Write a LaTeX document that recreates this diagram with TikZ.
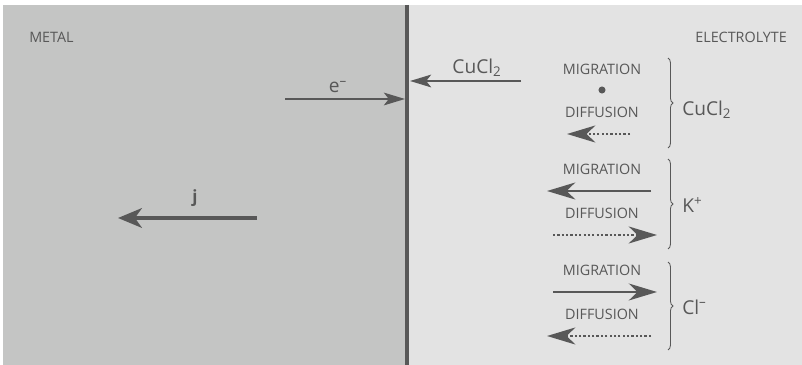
\documentclass[tikz,border=0pt]{standalone}
\usepackage{fontspec}
\setmainfont{Open Sans}
\usetikzlibrary{arrows.meta,positioning,decorations.pathreplacing}
\definecolor{metalgray}{RGB}{196,197,196}
\definecolor{electrogray}{RGB}{227,227,227}
\definecolor{ink}{RGB}{88,88,88}

\begin{document}
\begin{tikzpicture}[x=0.025cm, y=-0.025cm,
  every node/.style={text=ink, inner sep=0pt},
  caps/.style={font=\fontsize{10.2}{12}\selectfont},
  species/.style={font=\fontsize{13.6}{16}\selectfont, anchor=west},
  flow/.style={draw=ink, line width=1.7pt, -{Stealth[length=20pt, width=12pt, inset=6pt]}},
  thinflow/.style={draw=ink, line width=1.6pt, -{Stealth[length=15pt, width=9pt, inset=3.5pt]}},
  dotflow/.style={flow, line width=1.9pt, dash pattern=on 1.6pt off 1.5pt},
  currentflow/.style={draw=ink, line width=2.4pt, -{Stealth[length=17pt, width=14pt, inset=5pt]}},
  bracket/.style={draw=ink, line width=0.6pt, decorate, decoration={brace, amplitude=3.5pt}}]
  \useasboundingbox (0,0) rectangle (802,365);
  % the two phases
  \fill[metalgray] (3,5) rectangle (406,365);
  \fill[electrogray] (406,5) rectangle (802,365);
  \draw[ink, line width=2.2pt] (407,5) -- (407,365);
  \node[caps, anchor=west] (metal) at (29,37) {METAL};
  \node[caps, anchor=east] (electrolyte) at (787,37) {ELECTROLYTE};

  % charge transfer at the interface
  \coordinate (eTail) at (285,99);
  \coordinate (eTip) at (405,99);
  \draw[thinflow] (eTail) -- (eTip);
  \node[font=\fontsize{13.6}{16}\selectfont] (elabel) at (338,87) {e\textsuperscript{--}};
  \coordinate (cuTail) at (521,81);
  \coordinate (cuTip) at (410,81);
  \draw[thinflow] (cuTail) -- (cuTip);
  \node[font=\fontsize{13.6}{16}\selectfont] (cuarrowlabel) at (477,68) {CuCl\textsubscript{2}};

  % current in the metal
  \coordinate (jTail) at (257,218);
  \coordinate (jTip) at (118,218);
  \draw[currentflow] (jTail) -- (jTip);
  \node[font=\fontsize{12}{14}\selectfont\bfseries] (jlabel) at (195,198) {j};

  % CuCl2: no migration, diffusion towards the metal
  \node[caps] (migCu) at (602,69) {MIGRATION};
  \node[circle, fill=ink, minimum size=5pt] (dotCu) at (602,90) {};
  \node[caps] (difCu) at (602,112) {DIFFUSION};
  \coordinate (difCuTail) at (630,134);
  \coordinate (difCuTip) at (567,134);
  \draw[dotflow] (difCuTail) -- (difCuTip);
  \draw[bracket] (668,58) -- (668,148);
  \node[species] (cuIon) at (682,110) {CuCl\textsubscript{2}};

  % K+
  \node[caps] (migK) at (602,169) {MIGRATION};
  \coordinate (migKTail) at (651,191);
  \coordinate (migKTip) at (547,191);
  \draw[flow] (migKTail) -- (migKTip);
  \node[caps] (difK) at (602,213) {DIFFUSION};
  \coordinate (difKTail) at (553,235);
  \coordinate (difKTip) at (657,235);
  \draw[dotflow] (difKTail) -- (difKTip);
  \draw[bracket] (668,159) -- (668,249);
  \node[species] (kIon) at (682,205) {K\textsuperscript{+}};

  % Cl-
  \node[caps] (migCl) at (602,270) {MIGRATION};
  \coordinate (migClTail) at (553,292);
  \coordinate (migClTip) at (657,292);
  \draw[flow] (migClTail) -- (migClTip);
  \node[caps] (difCl) at (602,314) {DIFFUSION};
  \coordinate (difClTail) at (651,336);
  \coordinate (difClTip) at (547,336);
  \draw[dotflow] (difClTail) -- (difClTip);
  \draw[bracket] (668,262) -- (668,350);
  \node[species] (clIon) at (682,307) {Cl\textsuperscript{--}};
\end{tikzpicture}
\end{document}
